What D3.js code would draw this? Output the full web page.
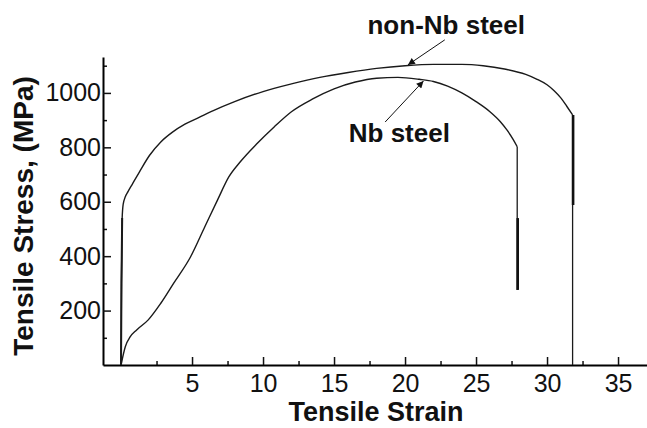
<!DOCTYPE html>
<html>
<head>
<meta charset="utf-8">
<script src="https://cdn.jsdelivr.net/npm/d3@7"></script>
<style>
  body { margin: 0; background: #fff; }
  text { font-family: 'Liberation Sans', Arial, Helvetica, sans-serif; fill: #111; }
</style>
</head>
<body>
<div id="chart-1"></div>
<script>
// non-Nb steel curve
const nonNbStrain = [0, 0.03, 0.08, 0.15, 0.3, 0.5, 0.8, 1.3, 2.0, 2.8, 3.6, 4.5, 5.5, 6.5, 8, 10, 12, 14, 16, 18, 20, 22, 24, 25.5, 27, 28.5, 29.3, 30.0, 30.5, 31.0, 31.4, 31.8]
const nonNbStress = [0, 300, 540, 590, 618, 638, 665, 710, 770, 820, 855, 885, 910, 935, 968, 1005, 1033, 1057, 1075, 1090, 1100, 1105, 1105, 1100, 1088, 1068, 1050, 1030, 1008, 980, 950, 919]

// Nb steel curve
const nbStrain = [0, 0.3, 0.65, 1.1, 1.9, 2.8, 3.7, 4.9, 5.9, 6.8, 7.6, 8.4, 9.6, 10.8, 12, 13.5, 15, 16.5, 18, 19.5, 21, 22, 23, 24, 25, 26, 26.7, 27.2, 27.6, 27.9]
const nbStress = [0, 67, 104, 129, 165, 227, 300, 398, 508, 607, 692, 747, 815, 876, 931, 978, 1015, 1040, 1054, 1057, 1050, 1042, 1025, 1000, 968, 930, 895, 862, 830, 802]

// fracture drops: [strain, top, thick from, thick to, bottom]
const nonNbDrop = [31.8, 919, 919, 588, 0]
const nbDrop = [27.9, 802, 540, 276, 276]

const xTicks = [5, 10, 15, 20, 25, 30, 35]
const xMinor = [2.5, 7.5, 12.5, 17.5, 22.5, 27.5, 32.5]
const yTicks = [200, 400, 600, 800, 1000]
const yMinor = [100, 300, 500, 700, 900, 1100]

const width = 647
const height = 428

const svg = d3
  .select('#chart-1')
  .append('svg')
  .attr('width', width)
  .attr('height', height)

const xScale = d3.scaleLinear().domain([-1.27, 37.04]).range([103, 647])
const yScale = d3.scaleLinear().domain([0, 1132]).range([365, 57])

// minor ticks first, under the axes
svg
  .append('g')
  .attr('transform', `translate(0,${yScale(0)})`)
  .call(d3.axisBottom(xScale).tickValues(xMinor).tickSize(-4).tickSizeOuter(0).tickFormat(''))
  .call(g => g.select('.domain').remove())
svg
  .append('g')
  .attr('transform', `translate(${xScale.range()[0]},0)`)
  .call(d3.axisLeft(yScale).tickValues(yMinor).tickSize(-4).tickSizeOuter(0).tickFormat(''))
  .call(g => g.select('.domain').remove())

const xAxis = svg
  .append('g')
  .attr('transform', `translate(0,${yScale(0)})`)
  .call(d3.axisBottom(xScale).tickValues(xTicks).tickSize(-8).tickSizeOuter(0).tickPadding(9).tickFormat(d3.format('d')))
xAxis.selectAll('text').style('font-size', '25px').attr('fill', '#111')
xAxis.select('.domain').attr('stroke-width', 2)

const yAxis = svg
  .append('g')
  .attr('transform', `translate(${xScale.range()[0]},0)`)
  .call(d3.axisLeft(yScale).tickValues(yTicks).tickSize(-8).tickSizeOuter(0).tickPadding(2).tickFormat(d3.format('d')))
yAxis.selectAll('text').style('font-size', '25px').attr('fill', '#111')
yAxis.select('.domain').attr('stroke-width', 2)

svg.selectAll('.tick line').attr('stroke-width', 1.5).attr('stroke', '#111')

// axis titles
svg
  .append('text')
  .attr('x', 376)
  .attr('y', 421)
  .attr('text-anchor', 'middle')
  .style('font-size', '27px')
  .style('font-weight', 'bold')
  .text('Tensile Strain')

svg
  .append('text')
  .attr('transform', 'translate(33,216) rotate(-90)')
  .attr('text-anchor', 'middle')
  .style('font-size', '28px')
  .style('font-weight', 'bold')
  .text('Tensile Stress, (MPa)')

// curves
const line = d3
  .line()
  .x(d => xScale(d[0]))
  .y(d => yScale(d[1]))
  .curve(d3.curveMonotoneX)

const curves = [
  d3.zip(nonNbStrain, nonNbStress),
  d3.zip(nbStrain, nbStress)
]

svg
  .selectAll('.curve')
  .data(curves)
  .enter()
  .append('path')
  .attr('class', 'curve')
  .attr('d', line)
  .attr('fill', 'none')
  .attr('stroke', '#1a1a1a')
  .attr('stroke-width', 1.4)

// the near-vertical elastic start is drawn heavier
svg
  .append('path')
  .attr('d', line(d3.zip(nonNbStrain.slice(0, 3), nonNbStress.slice(0, 3))))
  .attr('fill', 'none')
  .attr('stroke', '#1a1a1a')
  .attr('stroke-width', 2)

// fracture drops
const drops = [nonNbDrop, nbDrop]
svg
  .selectAll('.drop-thin')
  .data(drops)
  .enter()
  .append('line')
  .attr('x1', d => xScale(d[0]))
  .attr('x2', d => xScale(d[0]))
  .attr('y1', d => yScale(d[1]))
  .attr('y2', d => yScale(d[4]))
  .attr('stroke', '#1a1a1a')
  .attr('stroke-width', 1.3)

svg
  .selectAll('.drop-thick')
  .data(drops)
  .enter()
  .append('line')
  .attr('x1', d => xScale(d[0]) + 0.5)
  .attr('x2', d => xScale(d[0]) + 0.5)
  .attr('y1', d => yScale(d[2]))
  .attr('y2', d => yScale(d[3]))
  .attr('stroke', '#111')
  .attr('stroke-width', 2.6)

// labels and arrows
svg
  .append('defs')
  .append('marker')
  .attr('id', 'head')
  .attr('viewBox', '0 0 10 10')
  .attr('refX', 10)
  .attr('refY', 5)
  .attr('markerWidth', 9)
  .attr('markerHeight', 7)
  .attr('markerUnits', 'userSpaceOnUse')
  .attr('orient', 'auto')
  .append('path')
  .attr('d', 'M0,0L10,5L0,10z')
  .attr('fill', '#111')

const labels = [
  { text: 'non-Nb steel', x: 22.9, y: 1215, from: [22.8, 1195], to: [20.2, 1103] },
  { text: 'Nb steel', x: 19.6, y: 820, from: [18.6, 893], to: [21.3, 1044] }
]

svg
  .selectAll('.arrow')
  .data(labels)
  .enter()
  .append('line')
  .attr('x1', d => xScale(d.from[0]))
  .attr('y1', d => yScale(d.from[1]))
  .attr('x2', d => xScale(d.to[0]))
  .attr('y2', d => yScale(d.to[1]))
  .attr('stroke', '#111')
  .attr('stroke-width', 1)
  .attr('marker-end', 'url(#head)')

svg
  .selectAll('.label')
  .data(labels)
  .enter()
  .append('text')
  .attr('x', d => xScale(d.x))
  .attr('y', d => yScale(d.y))
  .attr('text-anchor', 'middle')
  .style('font-size', '26px')
  .style('font-weight', 'bold')
  .text(d => d.text)
</script>
</body>
</html>
